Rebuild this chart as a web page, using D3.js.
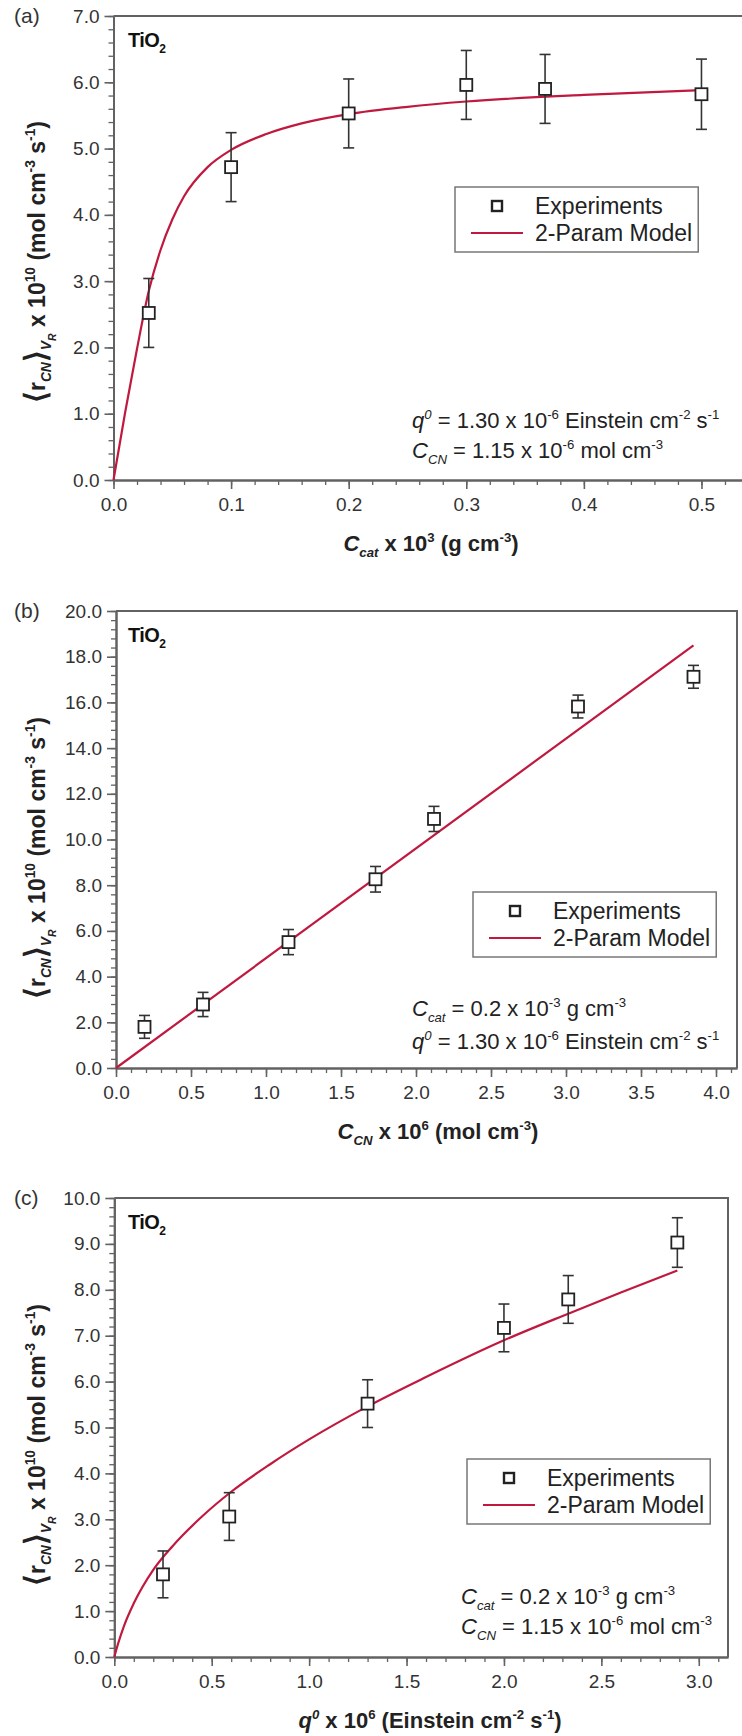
<!DOCTYPE html>
<html>
<head>
<meta charset="utf-8">
<script src="https://cdn.jsdelivr.net/npm/d3@7"></script>
<style>
  body { margin: 0; background: #fff; }
  svg { display: block; }
  text { font-family: "Liberation Sans", Arial, sans-serif; white-space: pre; }
</style>
</head>
<body>
<svg id="chart" width="742" height="1736"></svg>
<script>

// (a) rate vs catalyst loading
var catX = [0.03, 0.1, 0.2, 0.3, 0.367, 0.5];
var catY = [2.52, 4.72, 5.53, 5.96, 5.90, 5.82];
var catErr = [0.52, 0.52, 0.52, 0.52, 0.52, 0.53];
var catFitX = [0, 0.01, 0.02, 0.03, 0.04, 0.05, 0.06, 0.08, 0.1, 0.13, 0.16, 0.2, 0.25, 0.3, 0.4, 0.5];
var catFitY = [0, 1.03, 1.98, 2.85, 3.47, 3.93, 4.28, 4.72, 4.98, 5.22, 5.38, 5.52, 5.63, 5.71, 5.81, 5.88];
var catTicksX = [0, 0.1, 0.2, 0.3, 0.4, 0.5];
var catTicksY = [0, 1, 2, 3, 4, 5, 6, 7];

// (b) rate vs cyanide concentration
var cnX = [0.19, 0.58, 1.15, 1.73, 2.12, 3.08, 3.85];
var cnY = [1.8, 2.78, 5.51, 8.26, 10.9, 15.82, 17.12];
var cnErr = [0.5, 0.53, 0.55, 0.56, 0.55, 0.5, 0.5];
var cnFitX = [0, 3.85];
var cnFitY = [0, 18.5];
var cnTicksX = [0, 0.5, 1, 1.5, 2, 2.5, 3, 3.5, 4];
var cnTicksY = [0, 2, 4, 6, 8, 10, 12, 14, 16, 18, 20];

// (c) rate vs photon flux
var qX = [0.25, 0.59, 1.30, 2.00, 2.33, 2.89];
var qY = [1.80, 3.06, 5.52, 7.17, 7.79, 9.03];
var qErr = [0.51, 0.52, 0.52, 0.52, 0.52, 0.54];
var qFitX = [0, 0.02, 0.05, 0.1, 0.2, 0.3, 0.45, 0.6, 0.8, 1.0, 1.3, 1.6, 2.0, 2.33, 2.6, 2.89];
var qFitY = [0, 0.3, 0.68, 1.17, 1.9, 2.42, 3.06, 3.6, 4.2, 4.74, 5.46, 6.1, 6.9, 7.48, 7.94, 8.42];
var qTicksX = [0, 0.5, 1, 1.5, 2, 2.5, 3];
var qTicksY = [0, 1, 2, 3, 4, 5, 6, 7, 8, 9, 10];

var axisColor = '#626262';
var fitColor = '#c0193f';
var svg = d3.select('#chart');

// text with sub/superscripts, lvl 1 = sup, -1 = sub, -2 = sub of sub, 'b' = big bracket
function rich(sel, parts, size) {
  var shifts = {0: 0, b: 0.06, 1: -0.42, '-1': 0.28, '-2': 0.48};
  var scales = {0: 1, b: 1.3, 1: 0.6, '-1': 0.6, '-2': 0.45};
  var cur = 0;
  parts.forEach(function (p) {
    var lvl = p.l || 0;
    var s = shifts[lvl] * size;
    sel.append('tspan')
      .attr('dy', s - cur)
      .style('font-size', (size * scales[lvl]) + 'px')
      .style('font-style', p.it ? 'italic' : null)
      .text(p.t);
    cur = s;
  });
  return sel;
}

var yLabel = [{t: '\u27E8', l: 'b'}, {t: 'r'}, {t: 'CN', l: -1, it: true}, {t: '\u27E9', l: 'b'}, {t: 'V', l: -1, it: true}, {t: 'R', l: -2, it: true},
  {t: ' x 10'}, {t: '10', l: 1}, {t: ' (mol cm'}, {t: '-3', l: 1}, {t: ' s'}, {t: '-1', l: 1}, {t: ')'}];
var qLine = [{t: 'q', it: true}, {t: '0', l: 1, it: true}, {t: ' = 1.30 x 10'}, {t: '-6', l: 1}, {t: ' Einstein cm'}, {t: '-2', l: 1}, {t: ' s'}, {t: '-1', l: 1}];
var cnLine = [{t: 'C', it: true}, {t: 'CN', l: -1, it: true}, {t: ' = 1.15 x 10'}, {t: '-6', l: 1}, {t: ' mol cm'}, {t: '-3', l: 1}];
var catLine = [{t: 'C', it: true}, {t: 'cat', l: -1, it: true}, {t: ' = 0.2 x 10'}, {t: '-3', l: 1}, {t: ' g cm'}, {t: '-3', l: 1}];

var panels = [
  {tag: '(a)', xs: catX, ys: catY, err: catErr, fx: catFitX, fy: catFitY, ticksX: catTicksX, ticksY: catTicksY,
   xMax: 0.54, yMax: 7, xMinor: 0.02, yMinor: 0.2,
   xLabel: [{t: 'C', it: true}, {t: 'cat', l: -1, it: true}, {t: ' x 10'}, {t: '3', l: 1}, {t: ' (g cm'}, {t: '-3', l: 1}, {t: ')'}],
   notes: [qLine, cnLine]},
  {tag: '(b)', xs: cnX, ys: cnY, err: cnErr, fx: cnFitX, fy: cnFitY, ticksX: cnTicksX, ticksY: cnTicksY,
   xMax: 4.14, yMax: 20, xMinor: 0.1, yMinor: 0.4,
   xLabel: [{t: 'C', it: true}, {t: 'CN', l: -1, it: true}, {t: ' x 10'}, {t: '6', l: 1}, {t: ' (mol cm'}, {t: '-3', l: 1}, {t: ')'}],
   notes: [catLine, qLine]},
  {tag: '(c)', xs: qX, ys: qY, err: qErr, fx: qFitX, fy: qFitY, ticksX: qTicksX, ticksY: qTicksY,
   xMax: 3.15, yMax: 10, xMinor: 0.1, yMinor: 0.2,
   xLabel: [{t: 'q', it: true}, {t: '0', l: 1, it: true}, {t: ' x 10'}, {t: '6', l: 1}, {t: ' (Einstein cm'}, {t: '-2', l: 1}, {t: ' s'}, {t: '-1', l: 1}, {t: ')'}],
   notes: [catLine, cnLine]}
];

// where each panel sits on the page
var layout = [
  {left: 113.5, right: 748.5, top: 16, bottom: 480, legend: [455, 187], notes: [412, 428, 30], xLabelX: 431, yLabelY: 262},
  {left: 116, right: 737, top: 611, bottom: 1068, legend: [473, 892], notes: [412, 1016, 33], xLabelX: 438, yLabelY: 858},
  {left: 114.3, right: 728, top: 1198, bottom: 1657, legend: [467, 1459], notes: [461, 1604, 30], xLabelX: 430, yLabelY: 1445}
];

panels.forEach(function (d, i) { drawPanel(d, layout[i]); });

function styleAxis(g, size) {
  g.select('.domain').attr('stroke', axisColor).attr('stroke-width', 2);
  g.selectAll('.tick line').attr('stroke', axisColor).attr('stroke-width', size > 6 ? 1.6 : 1.3);
  g.selectAll('.tick text').attr('fill', '#333').style('font-size', '19px')
    .style('font-family', '"Liberation Sans", Arial, sans-serif');
}

function drawPanel(d, L) {
  var x = d3.scaleLinear().domain([0, d.xMax]).range([L.left, L.right]);
  var y = d3.scaleLinear().domain([0, d.yMax]).range([L.bottom, L.top]);
  var g = svg.append('g');
  var fmt = d3.format('.1f');

  // top and right border of the frame
  g.append('path')
    .attr('d', 'M' + L.left + ',' + L.top + 'H' + L.right + 'V' + L.bottom)
    .attr('fill', 'none').attr('stroke', axisColor).attr('stroke-width', 2);

  var xMinor = d3.range(0, d.xMax + 1e-9, d.xMinor);
  var yMinor = d3.range(0, d.yMax + 1e-9, d.yMinor);

  g.append('g').attr('transform', 'translate(0,' + L.bottom + ')')
    .call(d3.axisBottom(x).tickValues(xMinor).tickSize(5).tickSizeOuter(0).tickFormat(''))
    .call(styleAxis, 5);
  g.append('g').attr('transform', 'translate(0,' + L.bottom + ')')
    .call(d3.axisBottom(x).tickValues(d.ticksX).tickSize(9).tickSizeOuter(0).tickPadding(9).tickFormat(fmt))
    .call(styleAxis, 9);
  g.append('g').attr('transform', 'translate(' + L.left + ',0)')
    .call(d3.axisLeft(y).tickValues(yMinor).tickSize(5).tickSizeOuter(0).tickFormat(''))
    .call(styleAxis, 5);
  g.append('g').attr('transform', 'translate(' + L.left + ',0)')
    .call(d3.axisLeft(y).tickValues(d.ticksY).tickSize(9).tickSizeOuter(0).tickPadding(5).tickFormat(fmt))
    .call(styleAxis, 9);

  // model curve
  var fit = d3.zip(d.fx, d.fy);
  g.append('path')
    .datum(fit)
    .attr('d', d3.line().x(function (p) { return x(p[0]); }).y(function (p) { return y(p[1]); }).curve(d3.curveMonotoneX))
    .attr('fill', 'none').attr('stroke', fitColor).attr('stroke-width', 2.2);

  // experiments with error bars
  var pts = d.xs.map(function (v, k) { return {x: v, y: d.ys[k], e: d.err[k]}; });
  var bars = g.append('g').attr('stroke', '#333').attr('stroke-width', 1.6);
  pts.forEach(function (p) {
    var cx = x(p.x);
    bars.append('line').attr('x1', cx).attr('x2', cx).attr('y1', y(p.y - p.e)).attr('y2', y(p.y + p.e));
    bars.append('line').attr('x1', cx - 5.5).attr('x2', cx + 5.5).attr('y1', y(p.y - p.e)).attr('y2', y(p.y - p.e));
    bars.append('line').attr('x1', cx - 5.5).attr('x2', cx + 5.5).attr('y1', y(p.y + p.e)).attr('y2', y(p.y + p.e));
  });
  g.selectAll('rect.pt').data(pts).enter().append('rect')
    .attr('class', 'pt')
    .attr('x', function (p) { return x(p.x) - 6; })
    .attr('y', function (p) { return y(p.y) - 6; })
    .attr('width', 12).attr('height', 12)
    .attr('fill', '#fff').attr('stroke', '#222').attr('stroke-width', 1.8);

  // panel letter and material
  g.append('text').attr('x', 14).attr('y', L.top + 7).style('font-size', '21px').attr('fill', '#333').text(d.tag);
  rich(g.append('text').attr('x', 128).attr('y', L.top + 31).style('font-weight', 'bold').style('letter-spacing', '-0.6px').attr('fill', '#111'),
    [{t: 'TiO'}, {t: '2', l: -1}], 20);

  // axis titles
  rich(g.append('text').attr('x', L.xLabelX).attr('y', L.bottom + 71).attr('text-anchor', 'middle')
    .style('font-weight', 'bold').attr('fill', '#222'), d.xLabel, 22);
  rich(g.append('text').attr('transform', 'translate(45,' + L.yLabelY + ') rotate(-90)').attr('text-anchor', 'middle')
    .style('font-weight', 'bold').attr('fill', '#222'), yLabel, 23);

  // conditions
  d.notes.forEach(function (parts, k) {
    rich(g.append('text').attr('x', L.notes[0]).attr('y', L.notes[1] + k * L.notes[2]).attr('fill', '#222'), parts, 22);
  });

  // legend
  var lg = g.append('g').attr('transform', 'translate(' + L.legend[0] + ',' + L.legend[1] + ')');
  var box = lg.append('rect').attr('width', 250).attr('height', 65)
    .attr('fill', '#fff').attr('stroke', '#777').attr('stroke-width', 1.5);
  lg.append('rect').attr('x', 37).attr('y', 14).attr('width', 10).attr('height', 10)
    .attr('fill', '#fff').attr('stroke', '#222').attr('stroke-width', 2.4);
  lg.append('line').attr('x1', 16).attr('x2', 68).attr('y1', 46).attr('y2', 46)
    .attr('stroke', fitColor).attr('stroke-width', 2);
  lg.append('text').attr('x', 80).attr('y', 27).style('font-size', '23px').attr('fill', '#222').text('Experiments');
  var t2 = lg.append('text').attr('x', 80).attr('y', 54).style('font-size', '23px').attr('fill', '#222').text('2-Param Model');
  box.attr('width', 80 + t2.node().getComputedTextLength() + 6);
}
</script>
</body>
</html>
